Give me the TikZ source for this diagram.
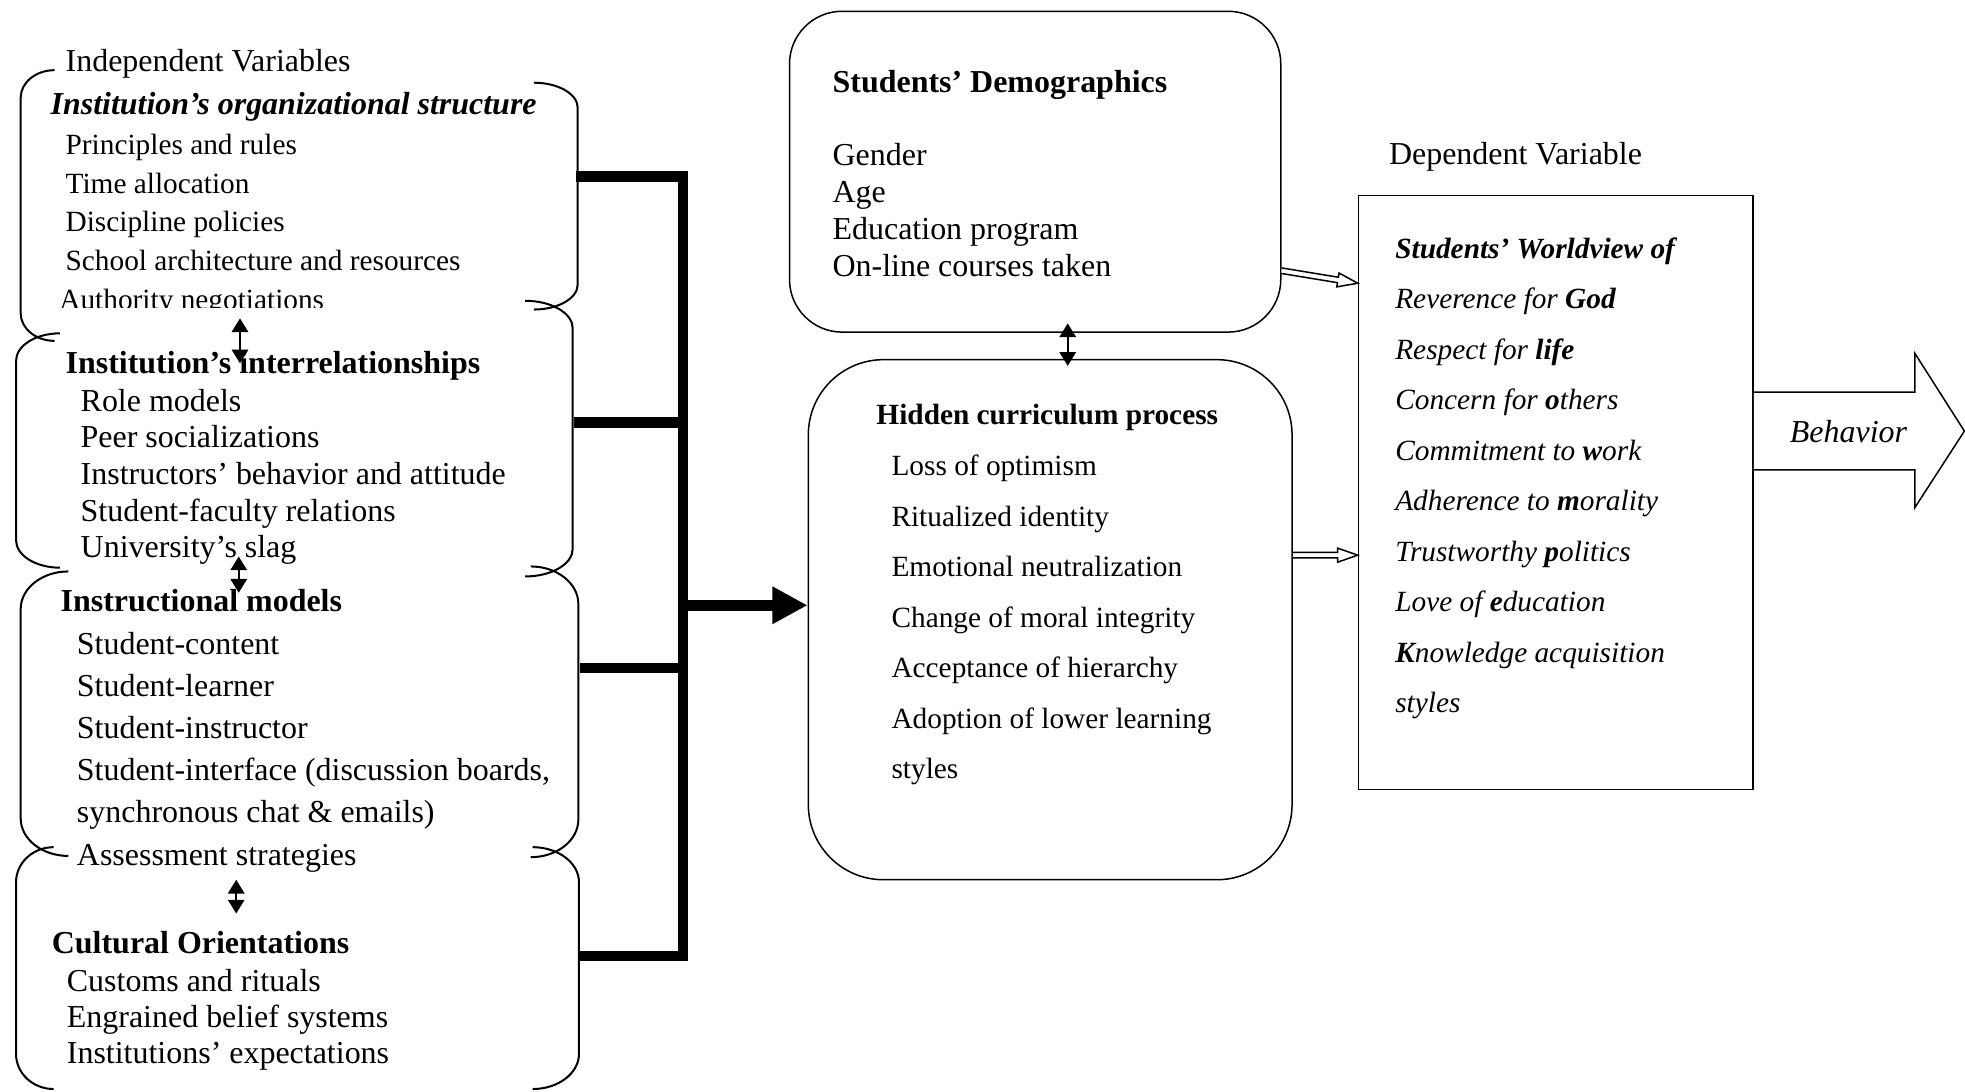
\documentclass[tikz,border=0pt]{standalone}
\usepackage{fontspec}
\setmainfont{Liberation Serif}
\usetikzlibrary{arrows.meta,calc}
\newcommand\fa{\fontsize{12.75}{15}\selectfont}
\newcommand\fb{\fontsize{11.7}{14}\selectfont}
% left bracket: x, top, bottom, hook width, hook height
\newcommand\lbrk[5]{\draw[brk] ({#1+#4},#2) .. controls ({#1+0.448*#4},#2) and (#1,{#2+0.448*#5}) .. (#1,{#2+#5}) -- (#1,{#3-#5}) .. controls (#1,{#3-0.448*#5}) and ({#1+0.448*#4},#3) .. ({#1+#4},#3);}
\newcommand\rbrk[5]{\draw[brk] ({#1-#4},#2) .. controls ({#1-0.448*#4},#2) and (#1,{#2+0.448*#5}) .. (#1,{#2+#5}) -- (#1,{#3-#5}) .. controls (#1,{#3-0.448*#5}) and ({#1-0.448*#4},#3) .. ({#1-#4},#3);}
% hollow block arrow: start, end, prefix
\newcommand\hollowarrow[3]{%
  \coordinate (#3bc) at ($(#2)!8pt!(#1)$);
  \draw[box, fill=white] ($(#1)!1.1pt!90:(#2)$) -- ($(#3bc)!1.1pt!90:(#2)$) -- ($(#3bc)!2.8pt!90:(#2)$) -- (#2) -- ($(#3bc)!2.8pt!-90:(#2)$) -- ($(#3bc)!1.1pt!-90:(#2)$) -- ($(#1)!1.1pt!-90:(#2)$);}
\tikzset{
  t/.style={anchor=base west, inner sep=0pt, font=\fa},
  ts/.style={anchor=base west, inner sep=0pt, font=\fb},
  box/.style={draw, line width=0.6pt},
  brk/.style={line width=0.8pt},
  bus/.style={line width=4.2pt},
  dbl/.style={line width=0.9pt, {Triangle[length=5.5pt,width=6.5pt]}-{Triangle[length=5.5pt,width=6.5pt]}},
}
\begin{document}
\begin{tikzpicture}[x=0.5pt,y=-0.5pt]
\useasboundingbox (0,0) rectangle (1568,871);
\fill[white] (0,0) rectangle (1568,871);

% ---------- brackets ----------
\lbrk{16.5}{56}{272}{27}{22}
\rbrk{461}{66}{247}{35}{20}
\lbrk{12.8}{266}{453}{35}{22}
\rbrk{457}{240}{460}{38}{22}
\lbrk{16.5}{456}{683}{38}{30}
\rbrk{461.5}{452}{684}{38}{30}
\lbrk{12.8}{676}{869}{30}{28}
\rbrk{462}{676}{869}{37}{28}

% ---------- left texts ----------
\node[t] (indep) at (52,57) {Independent Variables};
\node[t, font=\fa\bfseries\itshape] (g1t) at (40,91) {Institution’s organizational structure};
\foreach \s [count=\i] in {Principles and rules, Time allocation, Discipline policies, School architecture and resources}
  \node[ts] (g1i\i) at (52,{123.5+30.7*(\i-1)}) {\s};
\begin{scope}
  \clip (0,0) rectangle (470,245);
  \node[ts] (g1last) at (47,247) {Authority negotiations};
\end{scope}

\node[t, font=\fa\bfseries] (g2t) at (52,298) {Institution’s interrelationships};
\foreach \s [count=\i] in {Role models, Peer socializations, Instructors’ behavior and attitude, Student-faculty relations, University’s slag}
  \node[t] (g2i\i) at (64,{328+29.3*(\i-1)}) {\s};

\node[t, font=\fa\bfseries] (g3t) at (48,488) {Instructional models};
\foreach \s [count=\i] in {Student-content, Student-learner, Student-instructor, {Student-interface (discussion boards,}, {synchronous chat \& emails)}}
  \node[t] (g3i\i) at (61,{522+33.5*(\i-1)}) {\s};
\node[t] (g3last) at (61,691) {Assessment strategies};

\node[t, font=\fa\bfseries] (g4t) at (41,761) {Cultural Orientations};
\foreach \s [count=\i] in {Customs and rituals, Engrained belief systems, Institutions’ expectations}
  \node[t] (g4i\i) at (53,{791+29*(\i-1)}) {\s};

% small double arrows between groups
\coordinate (a1t) at (191.5,254); \coordinate (a1b) at (191.5,290);
\coordinate (a2t) at (190.5,444); \coordinate (a2b) at (190.5,473);
\coordinate (a3t) at (188.5,702); \coordinate (a3b) at (188.5,729);
\draw[dbl] (a1t) -- (a1b);
\draw[dbl] (a2t) -- (a2b);
\draw[dbl] (a3t) -- (a3b);

% ---------- boxes ----------
\node[box, rounded corners=21pt, minimum width=196pt, minimum height=128pt, inner sep=0pt] (demo) at (826,137) {};
\node[box, rounded corners=30pt, minimum width=193pt, minimum height=207.5pt, inner sep=0pt] (hid) at (838,494.5) {};
\node[box, minimum width=157.5pt, minimum height=237pt, inner sep=0pt] (wv) at (1241.5,393) {};

\node[t, font=\fa\bfseries] (demot) at (664,74) {Students’ Demographics};
\foreach \s [count=\i] in {Gender, Age, Education program, On-line courses taken}
  \node[t] (demoi\i) at (664,{132+29.5*(\i-1)}) {\s};

\node[ts, font=\fb\bfseries] (hidt) at (699,338.5) {Hidden curriculum process};
\foreach \s [count=\i] in {Loss of optimism, Ritualized identity, Emotional neutralization, Change of moral integrity, Acceptance of hierarchy, Adoption of lower learning, styles}
  \node[ts] (hidi\i) at (711,{379.5+40.3*(\i-1)}) {\s};

\node[t] (dep) at (1108,131) {Dependent Variable};
\node[ts, font=\fb\bfseries\itshape] (wvt) at (1113,206.5) {Students’ Worldview of};
\foreach \s [count=\i] in {Reverence for \textbf{God}, Respect for \textbf{life}, Concern for \textbf{o}thers, Commitment to \textbf{w}ork, Adherence to \textbf{m}orality, Trustworthy \textbf{p}olitics, Love of \textbf{e}ducation, \textbf{K}nowledge acquisition, styles}
  \node[ts, font=\fb\itshape] (wvi\i) at (1113,{246.5+40.3*(\i-1)}) {\s};

% ---------- thick connector ----------
\coordinate (c1) at (460,141); \coordinate (j1) at (545,141);
\coordinate (c2) at (458,337);
\coordinate (c3) at (463,533);
\coordinate (c4) at (463,763); \coordinate (j4) at (545,763);
\coordinate (busp) at (545,483);
\draw[bus] (c1) -- (j1) -- (j4) -- (c4);
\draw[bus] (c2) -- (c2 -| j1);
\draw[bus] (c3) -- (c3 -| j1);
\draw[bus, -{Triangle[length=14pt,width=14pt]}] (busp) -- (busp -| hid.west);

% demographics <-> hidden curriculum
\coordinate (dA) at (852,258); \coordinate (dB) at (852,292);
\draw[dbl] (dA) -- (dB);

% hollow arrows to dependent variable
\coordinate (h1s) at (demo.east |- 0,216); \coordinate (h1e) at (wv.west |- 0,226);
\coordinate (h2s) at (hid.east |- 0,443); \coordinate (h2e) at (wv.west |- 0,443);
\hollowarrow{h1s}{h1e}{ha}
\hollowarrow{h2s}{h2e}{hb}

% behavior block arrow
\coordinate (bs1) at (wv.east |- 0,313); \coordinate (bs2) at (wv.east |- 0,375);
\draw[box, fill=white] (bs1) -- (1528,313) -- (1528,282) -- (1567.5,344) -- (1528,405) -- (1528,375) -- (bs2);
\node[inner sep=0pt, font=\fa\itshape] (beh) at (1475,344) {Behavior};
\end{tikzpicture}
\end{document}
